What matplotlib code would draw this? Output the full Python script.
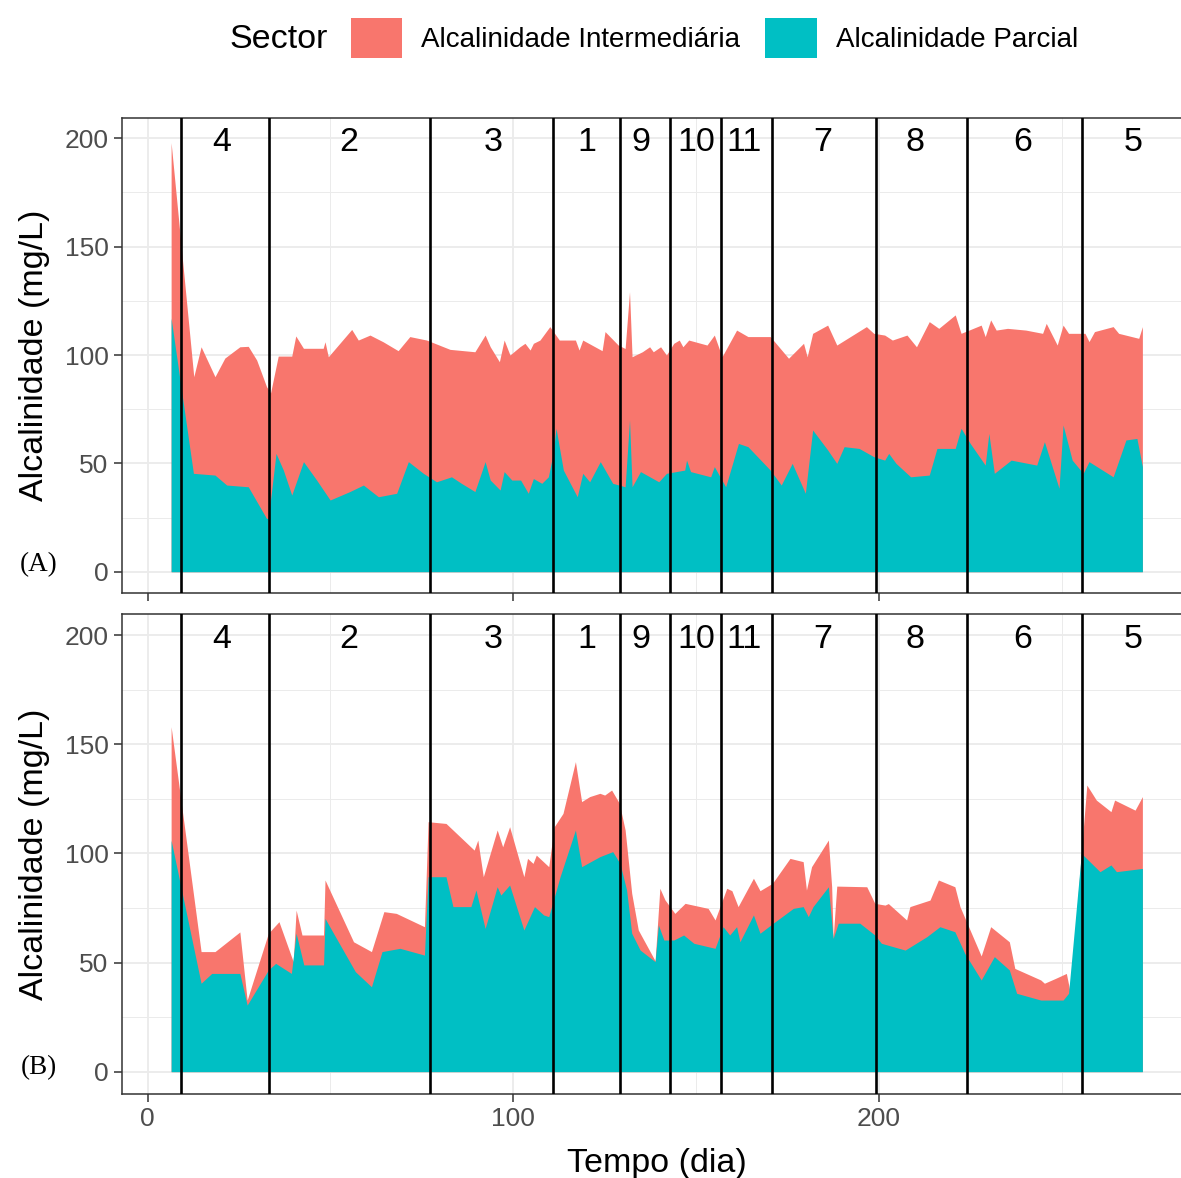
import numpy as np
import matplotlib.pyplot as plt
from matplotlib.patches import Patch

# --- dados: alcalinidade ao longo do tempo (dia) ---
# (A) curva total (parcial + intermediaria) e curva parcial
dia_total_A = [6.4, 12.6, 14.6, 18.4, 21.1, 25.2, 27.5, 29.8, 32.5, 33.6, 35.7, 39.4, 40.5, 42.6,
               48.0, 48.5, 49.4, 55.8, 57.6, 60.8, 64.4, 68.5, 71.7, 76.3, 80.9, 82.7, 89.5, 92.3,
               93.7, 96.2, 97.5, 99.1, 101.8, 103.2, 104.6, 105.5, 107.3, 110.0, 112.6, 117.0, 118.0,
               119.0, 124.3, 125.1, 128.7, 130.6, 131.8, 132.5, 135.3, 137.3, 138.3, 140.3, 141.9,
               143.9, 145.4, 146.4, 148.0, 153.0, 155.0, 157.1, 161.1, 164.2, 170.3, 175.3, 179.4,
               180.4, 181.9, 186.0, 188.5, 196.6, 198.6, 201.6, 203.7, 207.7, 210.3, 213.8, 216.4,
               220.9, 222.5, 228.0, 229.1, 230.6, 232.1, 235.2, 240.2, 244.8, 245.8, 248.8, 250.4,
               251.9, 256.4, 257.5, 259.0, 264.1, 265.6, 271.1, 272.1]
total_A = [198, 90, 103.8, 90, 98.6, 103.8, 104, 97.7, 85.4, 82.5, 99.5, 99.5, 108.8, 103.1,
           103.1, 106.1, 99.2, 111.8, 106.9, 109.2, 106.1, 102, 108.5, 106.9, 103.8, 102.6, 101.5, 109.2,
           103.8, 96.9, 106.9, 100, 103.8, 105.4, 102.3, 105.4, 106.9, 113.1, 106.9, 106.9, 102.3,
           106.9, 102, 110.8, 104.6, 103, 129.2, 99.2, 101.5, 103.8, 101.5, 103.8, 100,
           105.4, 106.9, 103.8, 106.9, 104.6, 109.2, 99.2, 111.5, 108.5, 108.5, 98.5, 105.4,
           99.2, 110, 113.8, 104.6, 113.1, 110, 109.2, 106.9, 109.2, 103.8, 115.4, 112.3,
           118.5, 110, 113.8, 108.5, 116.2, 111.5, 112.3, 111.5, 110, 114.6, 104.6, 113.8,
           110, 110, 106.2, 110.8, 113.1, 110, 107.7, 113.1]

dia_parcial_A = [6.4, 12.5, 18.4, 21.6, 27.5, 32.5, 33.0, 35.1, 37.1, 39.4, 42.6, 46.2, 49.9, 55.3,
                 59.0, 63.1, 68.1, 71.3, 75.4, 79.0, 83.1, 85.8, 89.5, 92.3, 93.7, 96.4, 97.5, 99.6,
                 102.0, 104.1, 105.5, 107.8, 109.6, 110.9, 111.7, 113.7, 117.5, 119.0, 120.9, 123.8, 127.2,
                 130.6, 131.8, 132.5, 134.8, 139.8, 141.9, 146.9, 147.4, 148.5, 154.0, 155.0, 158.1,
                 161.6, 164.2, 170.3, 173.3, 176.3, 179.9, 181.9, 186.0, 188.5, 190.5, 194.6, 198.6,
                 201.6, 202.7, 204.7, 208.7, 213.8, 215.9, 220.9, 222.5, 225.0, 229.1, 230.1, 231.6,
                 236.2, 243.2, 245.3, 249.3, 250.4, 252.9, 255.9, 257.5, 264.1, 267.6, 270.6, 272.1]
parcial_A = [117, 45.4, 44.6, 40, 39.2, 24.6, 24.6, 54.6, 46.9, 35.4, 50.8, 42.3, 33.1, 37,
             40, 34.6, 36.2, 50.8, 45.4, 41.5, 43.8, 40.8, 37, 50.8, 42.3, 37.7, 46.2, 42.3,
             42.3, 36.2, 43, 40.8, 43.8, 54.6, 66.2, 46.9, 34.6, 45.4, 41.5, 50.8, 40.8,
             39.2, 70, 39.2, 46.2, 41.5, 45.4, 46.9, 51.5, 46.2, 43.8, 48.5, 39.2,
             59.2, 57.7, 46.9, 40, 50, 36.2, 65.4, 56.2, 50, 57.7, 56.9, 53.1,
             51.5, 54.6, 50, 43.8, 44.6, 56.9, 56.9, 66.2, 59.2, 49.2, 63.8, 45.4,
             51.5, 49.2, 60, 38.5, 67.7, 51.5, 45.4, 50.8, 43.8, 60.8, 61.5, 48.5]

# (B)
dia_total_B = [6.4, 14.6, 18.4, 25.2, 27.2, 33.0, 35.9, 39.8, 40.6, 42.2, 48.1, 48.5, 56.3, 61.2,
               64.6, 68.0, 75.7, 76.7, 81.6, 89.3, 90.3, 91.8, 95.6, 97.1, 99.0, 102.9, 103.9, 105.4,
               106.3, 109.7, 111.2, 113.6, 117.0, 118.7, 120.9, 123.7, 125.0, 126.9, 129.0, 130.6,
               132.4, 134.2, 138.8, 140.1, 141.5, 144.2, 147.0, 153.3, 155.2, 158.4, 159.8, 161.5,
               165.7, 167.5, 170.9, 175.7, 179.3, 180.2, 181.6, 186.2, 187.1, 187.5, 188.5, 196.7,
               198.9, 201.7, 202.6, 207.6, 208.5, 214.0, 216.3, 220.8, 222.2, 228.0, 230.6, 235.7,
               237.2, 244.3, 245.3, 248.3, 251.3, 252.4, 255.4, 256.9, 259.5, 263.5, 264.5, 270.1,
               272.1]
total_B = [158, 55, 55, 64, 32.8, 63.4, 68.7, 50.4, 74, 62.6, 62.6, 87.8, 59.5, 55,
           73.3, 72.5, 66.4, 114.5, 113.7, 101.5, 106.1, 89.3, 110.7, 103, 112.2, 89.3, 97.7, 95.4,
           99.2, 93.9, 112.2, 118.3, 142, 123.7, 126, 127.5, 126.7, 129, 123, 110.7,
           81.7, 64.9, 50.8, 84, 78.7, 72.5, 77.1, 74.8, 69.5, 84, 82.9, 75.6,
           88.6, 82.9, 86.3, 97.7, 96.2, 83.2, 93.9, 106.1, 84.7, 61, 85, 84.7,
           77.1, 76.3, 77, 69.5, 75.6, 78.6, 87.8, 84.7, 75.6, 53, 66.4, 59.5,
           47.3, 42, 40.5, 42.7, 45, 35.9, 100, 131.3, 124.4, 119.1, 124.4, 119.8,
           126]

dia_parcial_B = [6.4, 14.6, 17.5, 25.2, 27.2, 33.0, 35.0, 39.3, 40.6, 42.7, 48.1, 48.5, 56.8, 61.2,
                 64.1, 69.0, 75.7, 76.7, 81.6, 83.5, 88.4, 89.8, 92.3, 95.6, 96.6, 99.0, 102.9, 105.8,
                 108.3, 109.7, 112.8, 117.0, 118.7, 123.7, 127.2, 129.2, 131.0, 132.4, 134.7, 138.8,
                 139.7, 141.2, 143.9, 146.6, 149.4, 155.2, 157.4, 159.2, 161.1, 162.0, 165.7, 167.5,
                 171.1, 176.6, 179.3, 180.7, 182.0, 186.2, 187.5, 188.9, 194.8, 198.9, 200.7, 207.2,
                 213.1, 216.7, 220.8, 223.5, 228.0, 231.6, 235.7, 237.7, 244.3, 250.4, 251.9, 255.4,
                 260.5, 263.5, 265.0, 272.1]
parcial_B = [106, 40.5, 45, 45, 30.5, 46.6, 49.6, 45, 63.4, 48.9, 48.9, 70.2, 45.8, 38.9,
             55, 56.5, 53.4, 89.3, 89.3, 75.6, 75.6, 83.2, 65.6, 84.7, 80.9, 85.5, 64.9, 75.6,
             71.8, 71, 89.3, 110.7, 93.9, 98.5, 100.8, 95.4, 83.2, 63.4, 55.7, 50.4,
             67.2, 60.3, 60.3, 62.6, 58.8, 56.5, 66.4, 62.6, 66.4, 59.5, 71.8, 63.4,
             68, 74.8, 75.6, 71, 75.6, 84.7, 61, 68, 68, 62.6, 58.8, 55.7,
             61.8, 66.4, 64.1, 54.2, 42, 52.7, 46.6, 35.9, 32.8, 32.8, 35.9, 100,
             91.6, 94.7, 91.6, 93.1]

# setores: limites (dia) e rotulos
limites_setor = [9.0, 33.2, 77.2, 110.9, 129.1, 143.0, 156.9, 170.9, 199.3, 224.0, 255.7]
setores = ["4", "2", "3", "1", "9", "10", "11", "7", "8", "6", "5"]
dia_rotulo = [20.2, 55.0, 94.5, 120.0, 135.0, 150.2, 163.2, 184.6, 210.0, 239.3, 269.5]

serie_nomes = ["Alcalinidade Intermediária", "Alcalinidade Parcial"]
cor_inter = "#F8766D"
cor_parcial = "#00BFC4"

plt.rcParams['font.family'] = 'Liberation Sans'

W, H = 1181, 1178
fig = plt.figure(figsize=(W / 100, H / 100), dpi=100)


def caixa(x0, x1, y0, y1):
  # converte caixa em pixels (origem no topo) para fracao da figura
  return [x0 / W, 1 - y1 / H, (x1 - x0) / W, (y1 - y0) / H]


axA = fig.add_axes(caixa(122.5, 1191, 117.7, 593.4))
axB = fig.add_axes(caixa(122.5, 1191, 614.3, 1093.5))

paineis = [
  (axA, dia_total_A, total_A, dia_parcial_A, parcial_A),
  (axB, dia_total_B, total_B, dia_parcial_B, parcial_B),
]

for ax, dt, tot, dp, parc in paineis:
  # area total por baixo, parcial por cima -> empilhado
  ax.fill_between(dt, 0, tot, color=cor_inter, lw=0, zorder=2)
  ax.fill_between(dp, 0, parc, color=cor_parcial, lw=0, zorder=3)

  for xl in limites_setor:
    ax.axvline(xl, color='black', lw=1.9, zorder=4)
  for xr, s in zip(dia_rotulo, setores):
    ax.text(xr, 198, s, ha='center', va='center', fontsize=24.5, color='black', zorder=5)

  ax.set_xlim(-6.9, 285.4)
  ax.set_ylim(-10, 209.5)
  ax.set_xticks([0, 100, 200])
  ax.set_xticks([50, 150, 250], minor=True)
  ax.set_yticks([0, 50, 100, 150, 200])
  ax.set_yticks([25, 75, 125, 175], minor=True)
  ax.grid(which='major', color='#EBEBEB', lw=1.3)
  ax.grid(which='minor', color='#EBEBEB', lw=0.7)
  ax.set_axisbelow(True)
  ax.tick_params(which='major', length=6, width=1.1, color='#333333',
                 labelsize=19, labelcolor='#4D4D4D', pad=4)
  ax.tick_params(which='minor', length=0)
  for sp in ax.spines.values():
    sp.set_color('#333333')
    sp.set_linewidth(1.1)

  ax.set_ylabel('Alcalinidade (mg/L)', fontsize=24.5)
  ax.yaxis.set_label_coords(-0.068, 0.5)

axA.tick_params(labelbottom=False)
axB.set_xlabel('Tempo (dia)', fontsize=24.5, labelpad=12)

fig.text(39 / W, 1 - 565 / H, "(A)", family='Liberation Serif', fontsize=19.5,
         ha='center', va='center')
fig.text(39 / W, 1 - 1068 / H, "(B)", family='Liberation Serif', fontsize=19.5,
         ha='center', va='center')

# legenda no topo
fig.text(279 / W, 1 - 40 / H, "Sector", fontsize=24.5, ha='center', va='center')
handles = [Patch(facecolor=cor_inter, edgecolor='none'),
           Patch(facecolor=cor_parcial, edgecolor='none')]
fig.legend(handles, serie_nomes, loc='center left', bbox_to_anchor=(351 / W, 1 - 38 / H),
           ncol=2, frameon=False, fontsize=20, handlelength=1.85, handleheight=1.8,
           handletextpad=0.68, columnspacing=0.9, borderpad=0, borderaxespad=0)

fig.savefig('out.png', dpi=100)
